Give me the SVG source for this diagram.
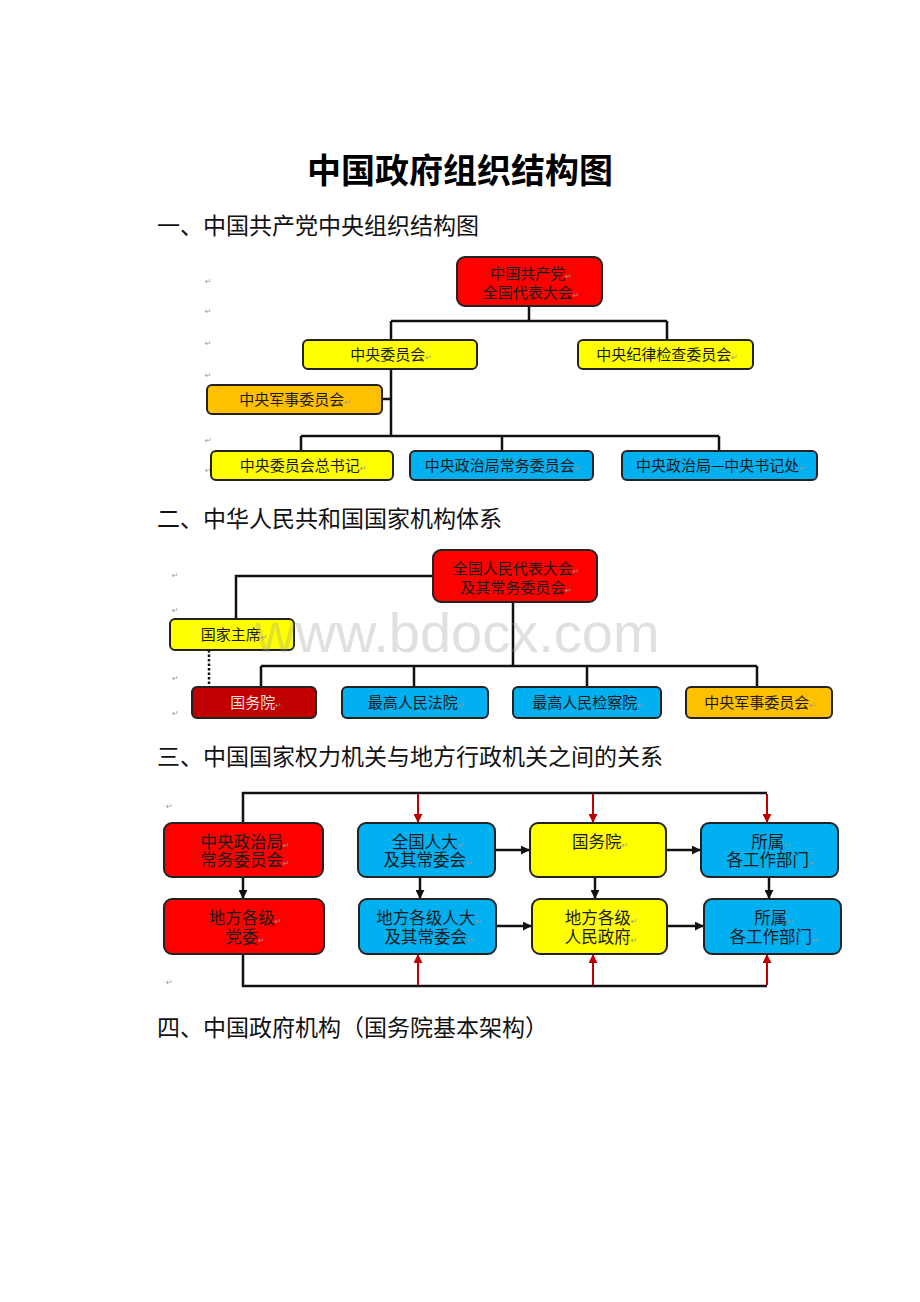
<svg xmlns="http://www.w3.org/2000/svg" width="920" height="1302" viewBox="0 0 920 1302">
<style>
.t{font-family:"Noto Sans CJK SC","Liberation Sans",sans-serif;fill:#1a1a1a;text-anchor:middle}
.h{font-family:"Noto Sans CJK SC","Liberation Serif",serif;font-size:23px;fill:#111}
.title{font-family:"Noto Sans CJK SC","Liberation Sans",sans-serif;font-size:34px;font-weight:bold;fill:#000;text-anchor:middle}
.s1{font-size:15px}
.s3{font-size:16.5px}
.pm{font-family:"DejaVu Sans",sans-serif;font-size:8px;fill:#999}
.box{stroke:#222;stroke-width:2}
.red{fill:#FF0000}.yel{fill:#FFFF00}.blu{fill:#00B0F0}.org{fill:#FFC000}.drd{fill:#C00000}
.ln{fill:none;stroke:#111;stroke-width:2.5}
.rl{fill:none;stroke:#C00000;stroke-width:2}
</style>
<defs>
<marker id="ab" viewBox="0 0 10 10" refX="9" refY="5" markerWidth="9" markerHeight="9" markerUnits="userSpaceOnUse" orient="auto"><path d="M0,0L10,5L0,10z" fill="#111"/></marker>
<marker id="ar" viewBox="0 0 10 10" refX="9" refY="5" markerWidth="9" markerHeight="9" markerUnits="userSpaceOnUse" orient="auto"><path d="M0,0L10,5L0,10z" fill="#C00000"/></marker>
</defs>
<rect width="920" height="1302" fill="#fff"/>

<text class="title" x="460" y="183">中国政府组织结构图</text>
<text class="h" x="157" y="234">一、中国共产党中央组织结构图</text>
<text class="h" x="157" y="527">二、中华人民共和国国家机构体系</text>
<text class="h" x="157" y="765">三、中国国家权力机关与地方行政机关之间的关系</text>
<text class="h" x="157" y="1036">四、中国政府机构（国务院基本架构）</text>

<g id="margin-marks">
<text class="pm" x="205" y="284">↵</text>
<text class="pm" x="205" y="314">↵</text>
<text class="pm" x="205" y="346">↵</text>
<text class="pm" x="205" y="378">↵</text>
<text class="pm" x="205" y="443">↵</text>
<text class="pm" x="205" y="473">↵</text>
<text class="pm" x="172" y="578">↵</text>
<text class="pm" x="172" y="613">↵</text>
<text class="pm" x="172" y="681">↵</text>
<text class="pm" x="172" y="716">↵</text>
<text class="pm" x="166" y="809">↵</text>
<text class="pm" x="166" y="985">↵</text>
</g>

<g id="connectors">
<!-- section 1 -->
<path class="ln" d="M529,306V321M391,321H667M391,321V340M667,321V340"/>
<path class="ln" d="M391,369V436M382,399H391M301,436H719M301,436V451M502,436V451M719,436V451"/>
<!-- section 2 -->
<path class="ln" d="M433,576H236V619M513,602V666M261,666H757M261,666V687M414,666V687M587,666V687M757,666V687"/>
<path d="M209,650V687" fill="none" stroke="#111" stroke-width="2.5" stroke-dasharray="2.5,2"/>
<!-- section 3 -->
<path class="ln" d="M243,823V793H767M243,954V986H767"/>
<path class="ln" d="M243,877V898" marker-end="url(#ab)"/>
<path class="ln" d="M420,877V898" marker-end="url(#ab)"/>
<path class="ln" d="M595,877V898" marker-end="url(#ab)"/>
<path class="ln" d="M769,877V898" marker-end="url(#ab)"/>
<path class="ln" d="M495,850H529" marker-end="url(#ab)"/>
<path class="ln" d="M666,850H700" marker-end="url(#ab)"/>
<path class="ln" d="M496,926H531" marker-end="url(#ab)"/>
<path class="ln" d="M667,926H703" marker-end="url(#ab)"/>
<path class="rl" d="M418,794V822" marker-end="url(#ar)"/>
<path class="rl" d="M593,794V822" marker-end="url(#ar)"/>
<path class="rl" d="M767,794V822" marker-end="url(#ar)"/>
<path class="rl" d="M418,985V955" marker-end="url(#ar)"/>
<path class="rl" d="M593,985V955" marker-end="url(#ar)"/>
<path class="rl" d="M767,985V955" marker-end="url(#ar)"/>
</g>

<!-- Section 1 nodes -->
<g id="n1-cpc-congress"><rect class="box red" x="457" y="257" width="145" height="49" rx="8"/>
<text class="t s1" x="531" y="278.5">中国共产党<tspan class="pm">↵</tspan></text>
<text class="t s1" x="531" y="297.5">全国代表大会<tspan class="pm">↵</tspan></text></g>
<g id="n1-central-committee"><rect class="box yel" x="303" y="340" width="174" height="29" rx="5"/>
<text class="t s1" x="391" y="360">中央委员会<tspan class="pm">↵</tspan></text></g>
<g id="n1-discipline"><rect class="box yel" x="578" y="340" width="175" height="29" rx="5"/>
<text class="t s1" x="667" y="360">中央纪律检查委员会<tspan class="pm">↵</tspan></text></g>
<g id="n1-military"><rect class="box org" x="207" y="385" width="175" height="29" rx="5"/>
<text class="t s1" x="295" y="405">中央军事委员会<tspan class="pm">↵</tspan></text></g>
<g id="n1-gensec"><rect class="box yel" x="211" y="451" width="182" height="29" rx="5"/>
<text class="t s1" x="303" y="471">中央委员会总书记<tspan class="pm">↵</tspan></text></g>
<g id="n1-psc"><rect class="box blu" x="410" y="451" width="183" height="29" rx="5"/>
<text class="t s1" x="503" y="471">中央政治局常务委员会<tspan class="pm">↵</tspan></text></g>
<g id="n1-secretariat"><rect class="box blu" x="622" y="451" width="195" height="29" rx="5"/>
<text class="t s1" x="721" y="471">中央政治局—中央书记处<tspan class="pm">↵</tspan></text></g>

<!-- Section 2 nodes -->
<g id="n2-npc"><rect class="box red" x="433" y="550" width="164" height="52" rx="8"/>
<text class="t s1" x="516" y="573.5">全国人民代表大会<tspan class="pm">↵</tspan></text>
<text class="t s1" x="516" y="592.5">及其常务委员会<tspan class="pm">↵</tspan></text></g>
<g id="n2-president"><rect class="box yel" x="170" y="619" width="124" height="31" rx="5"/>
<text class="t s1" x="234" y="640">国家主席<tspan class="pm">↵</tspan></text></g>
<g id="n2-state-council"><rect class="box drd" x="192" y="687" width="124" height="31" rx="5"/>
<text class="t s1" x="256" y="708" style="fill:#f4dede">国务院<tspan class="pm">↵</tspan></text></g>
<g id="n2-court"><rect class="box blu" x="342" y="687" width="146" height="31" rx="5"/>
<text class="t s1" x="416" y="708">最高人民法院<tspan class="pm">↵</tspan></text></g>
<g id="n2-procuratorate"><rect class="box blu" x="513" y="687" width="148" height="31" rx="5"/>
<text class="t s1" x="588" y="708">最高人民检察院<tspan class="pm">↵</tspan></text></g>
<g id="n2-military"><rect class="box org" x="686" y="687" width="146" height="31" rx="5"/>
<text class="t s1" x="760" y="708">中央军事委员会<tspan class="pm">↵</tspan></text></g>

<!-- Section 3 nodes -->
<g id="n3-psc"><rect class="box red" x="164" y="823" width="159" height="54" rx="8"/>
<text class="t s3" x="245" y="848">中央政治局<tspan class="pm">↵</tspan></text>
<text class="t s3" x="245" y="866">常务委员会<tspan class="pm">↵</tspan></text></g>
<g id="n3-local-party"><rect class="box red" x="164" y="899" width="160" height="55" rx="8"/>
<text class="t s3" x="245" y="924">地方各级<tspan class="pm">↵</tspan></text>
<text class="t s3" x="245" y="943">党委<tspan class="pm">↵</tspan></text></g>
<g id="n3-npc"><rect class="box blu" x="358" y="823" width="137" height="54" rx="8"/>
<text class="t s3" x="428" y="848">全国人大<tspan class="pm">↵</tspan></text>
<text class="t s3" x="428" y="866">及其常委会<tspan class="pm">↵</tspan></text></g>
<g id="n3-local-npc"><rect class="box blu" x="359" y="899" width="137" height="55" rx="8"/>
<text class="t s3" x="429" y="924">地方各级人大<tspan class="pm">↵</tspan></text>
<text class="t s3" x="429" y="943">及其常委会<tspan class="pm">↵</tspan></text></g>
<g id="n3-state-council"><rect class="box yel" x="530" y="823" width="136" height="54" rx="8"/>
<text class="t s3" x="600" y="848">国务院<tspan class="pm">↵</tspan></text></g>
<g id="n3-local-gov"><rect class="box yel" x="532" y="899" width="135" height="55" rx="8"/>
<text class="t s3" x="601" y="924">地方各级<tspan class="pm">↵</tspan></text>
<text class="t s3" x="601" y="943">人民政府<tspan class="pm">↵</tspan></text></g>
<g id="n3-depts"><rect class="box blu" x="701" y="823" width="137" height="54" rx="8"/>
<text class="t s3" x="771" y="848">所属<tspan class="pm">↵</tspan></text>
<text class="t s3" x="771" y="866">各工作部门<tspan class="pm">↵</tspan></text></g>
<g id="n3-local-depts"><rect class="box blu" x="704" y="899" width="137" height="55" rx="8"/>
<text class="t s3" x="774" y="924">所属<tspan class="pm">↵</tspan></text>
<text class="t s3" x="774" y="943">各工作部门<tspan class="pm">↵</tspan></text></g>

<text x="255" y="652" font-family="'Liberation Sans',Arial,sans-serif" font-size="56" fill="#999" fill-opacity="0.3">www.bdocx.com</text>
</svg>
